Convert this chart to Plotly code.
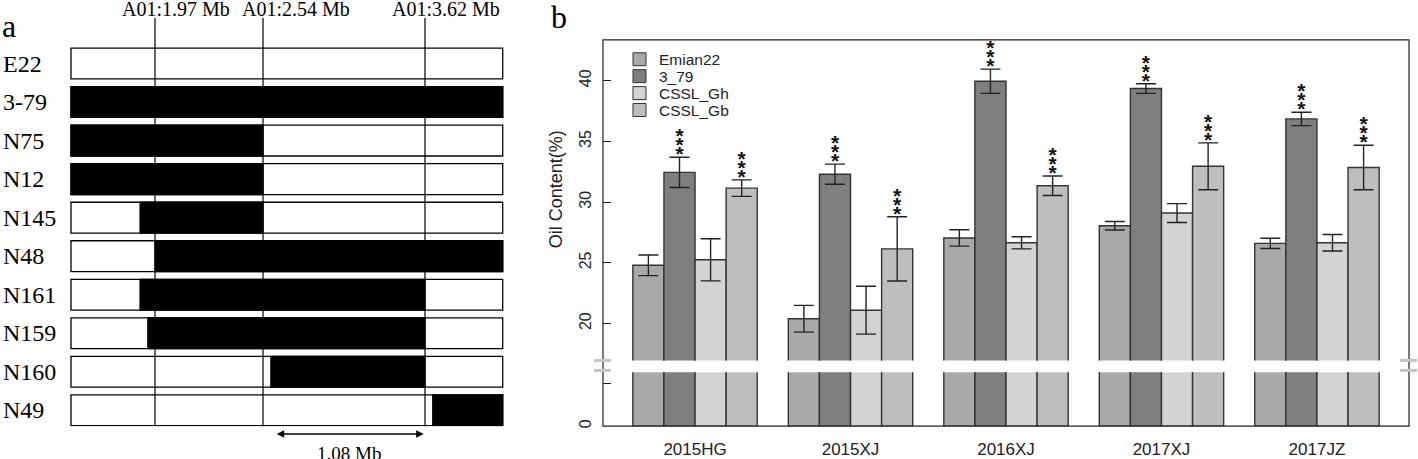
import plotly.graph_objects as go

W, H = 1418, 459

# ---------------- data: panel a ----------------
ROWS = ["E22", "3-79", "N75", "N12", "N145", "N48", "N161", "N159", "N160", "N49"]
# introgressed (black) segments, schematic position 0-100 across the region
SEG_ROWS = ["3-79", "N75", "N12", "N145", "N48", "N161", "N159", "N160", "N49"]
SEG_START = [0, 0, 0, 16.0, 19.46, 16.0, 17.8, 46.3, 83.8]
SEG_END = [100, 44.48, 44.48, 44.48, 100, 82.0, 82.0, 82.0, 100]
MARKER_POS = [19.46, 44.48, 82.0]
MARKER_LABELS = ["A01:1.97 Mb", "A01:2.54 Mb", "A01:3.62 Mb"]
SCALE_FROM, SCALE_TO, SCALE_LABEL = 47.3, 81.7, "1.08 Mb"

# ---------------- data: panel b ----------------
GROUPS = ["2015HG", "2015XJ", "2016XJ", "2017XJ", "2017JZ"]
SERIES = ["Emian22", "3_79", "CSSL_Gh", "CSSL_Gb"]
EMIAN22 = [24.8, 20.4, 27.05, 28.05, 26.6]
EMIAN22_ERR = [0.85, 1.1, 0.67, 0.35, 0.42]
L3_79 = [32.45, 32.3, 39.95, 39.35, 36.85]
L3_79_ERR = [1.25, 0.83, 1.0, 0.4, 0.55]
CSSL_GH = [25.25, 21.1, 26.65, 29.1, 26.65]
CSSL_GH_ERR = [1.73, 1.97, 0.5, 0.78, 0.68]
CSSL_GB = [31.15, 26.15, 31.35, 32.95, 32.85]
CSSL_GB_ERR = [0.68, 2.65, 0.8, 1.93, 1.83]
SIGNIF = ["", "***", "", "***"]
COLORS = ["#A9A9A9", "#7F7F7F", "#D3D3D3", "#BEBEBE"]
UPPER_TICKS = [20, 25, 30, 35, 40]

VALUES = [EMIAN22, L3_79, CSSL_GH, CSSL_GB]
ERRORS = [EMIAN22_ERR, L3_79_ERR, CSSL_GH_ERR, CSSL_GB_ERR]


def px(x):
    return x / W


def py(y):
    return 1 - y / H


SERIF = "Liberation Serif, Times New Roman, serif"
SANS = "Liberation Sans, Arial, Helvetica, sans-serif"

fig = go.Figure()

# ---------------- panel b ----------------
L, R, T, B = 603, 1409, 40, 428
GAP_T, GAP_B = 362, 374
PPU = 12.2  # px per unit, upper
up_lo = 20 - (GAP_T - 325) / PPU
up_hi = 20 + (325 - T) / PPU
BW = 0.2

for k, name in enumerate(SERIES):
    xs = [g + (k - 1.5) * BW for g in range(len(GROUPS))]
    for yax, err in (("y", None), ("y2", ERRORS[k])):
        fig.add_trace(go.Bar(
            x=xs, y=VALUES[k], width=BW, name=name, showlegend=False,
            xaxis="x", yaxis=yax,
            marker=dict(color=COLORS[k], line=dict(color="#333333", width=1.4)),
            error_y=None if err is None else dict(type="data", array=err, visible=True,
                                                   color="#222222", thickness=1.4, width=10),
        ))
    if SIGNIF[k]:
        sx, sy = [], []
        for g in range(len(GROUPS)):
            top = VALUES[k][g] + ERRORS[k][g]
            for i in range(len(SIGNIF[k])):
                sx.append(xs[g])
                sy.append(top + 0.1 + 0.74 * i)
        fig.add_trace(go.Scatter(
            x=sx, y=sy, mode="text", text=["<b>*</b>"] * len(sx), showlegend=False,
            xaxis="x", yaxis="y2", cliponaxis=False,
            textfont=dict(family=SANS, size=21, color="#111111"), hoverinfo="skip",
        ))

shapes = []
annotations = []

# plot box
shapes.append(dict(type="rect", xref="paper", yref="paper", x0=px(L), x1=px(R), y0=py(B), y1=py(T),
                   line=dict(color="#222222", width=1.2), layer="above"))
# break marks
for xa, xb in ((594, 611), (1400, 1417)):
    for yy in (362, 372):
        shapes.append(dict(type="line", xref="paper", yref="paper", x0=px(xa), x1=px(xb), y0=py(yy), y1=py(yy),
                           line=dict(color="#C4C4C4", width=3), layer="above"))

# legend (manual)
for k, name in enumerate(SERIES):
    cy = 59.5 + 17 * k
    shapes.append(dict(type="rect", xref="paper", yref="paper", x0=px(633), x1=px(646),
                       y0=py(cy + 6.5), y1=py(cy - 6.5), fillcolor=COLORS[k],
                       line=dict(color="#333333", width=1)))
    annotations.append(dict(text=name, xref="paper", yref="paper", x=px(657), y=py(cy),
                            xanchor="left", yanchor="middle", showarrow=False,
                            font=dict(family=SANS, size=15.5, color="#222222")))

annotations.append(dict(text="Oil Content(%)", xref="paper", yref="paper", x=px(556), y=py(190),
                        textangle=-90, showarrow=False, xanchor="center", yanchor="middle",
                        font=dict(family=SANS, size=18, color="#222222")))
annotations.append(dict(text="b", xref="paper", yref="paper", x=px(549), y=py(17),
                        xanchor="left", yanchor="middle", showarrow=False,
                        font=dict(family=SERIF, size=32, color="black")))

# ---------------- panel a ----------------
A_L, A_R = 71, 502.7
UPX = (A_R - A_L) / 100.0
dom_l, dom_r = 66, 508
a_range = [(dom_l - A_L) / UPX, (dom_r - A_L) / UPX]
A_T, A_B = 18, 428
ROW0, PITCH = 63.8, 38.7
a_yrange = [(A_B - ROW0) / PITCH, (A_T - ROW0) / PITCH]


def ady(y):
    # pixel y -> fraction of panel-a y domain
    return (A_B - y) / (A_B - A_T)


fig.add_trace(go.Bar(
    y=ROWS, x=[100] * len(ROWS), base=[0] * len(ROWS), orientation="h", width=0.8,
    xaxis="x3", yaxis="y3", showlegend=False,
    marker=dict(color="rgba(0,0,0,0)", line=dict(color="black", width=1.3)),
))
fig.add_trace(go.Bar(
    y=SEG_ROWS, x=[e - s for s, e in zip(SEG_START, SEG_END)], base=SEG_START, orientation="h",
    width=0.8, xaxis="x3", yaxis="y3", showlegend=False,
    marker=dict(color="black", line=dict(color="black", width=1.3)),
))

for m in MARKER_POS:
    shapes.append(dict(type="line", xref="x3", yref="y3 domain", x0=m, x1=m, y0=0, y1=1,
                       line=dict(color="black", width=1.2), layer="below"))

LABEL_X = [24.4, 52.2, 86.9]
for lx, lab in zip(LABEL_X, MARKER_LABELS):
    annotations.append(dict(text=lab, xref="x3", yref="paper", x=lx, y=py(9), showarrow=False,
                            xanchor="center", yanchor="middle",
                            font=dict(family=SERIF, size=20, color="black")))

for r in ROWS:
    annotations.append(dict(text=r, xref="paper", yref="y3", x=px(1), y=r, showarrow=False,
                            xanchor="left", yanchor="middle",
                            font=dict(family=SERIF, size=24, color="black")))

annotations.append(dict(text="a", xref="paper", yref="paper", x=px(0), y=py(26),
                        xanchor="left", yanchor="middle", showarrow=False,
                        font=dict(family=SERIF, size=32, color="black")))

# scale bar
annotations.append(dict(text="", x=SCALE_TO, y=ady(436), xref="x3", yref="y3 domain",
                        ax=SCALE_FROM, ay=ady(436), axref="x3", ayref="y3 domain",
                        showarrow=True, arrowhead=2, arrowside="end+start", arrowsize=1,
                        arrowwidth=1.5, arrowcolor="black"))
annotations.append(dict(text=SCALE_LABEL, xref="x3", yref="paper", x=(SCALE_FROM + SCALE_TO) / 2,
                        y=py(455), showarrow=False, xanchor="center", yanchor="middle",
                        font=dict(family=SERIF, size=19, color="black")))

fig.update_layout(
    width=W, height=H, margin=dict(l=0, r=0, t=0, b=0),
    paper_bgcolor="white", plot_bgcolor="rgba(0,0,0,0)",
    barmode="overlay", showlegend=False,
    xaxis=dict(domain=[px(L), px(R)], range=[-0.592, 4.592], anchor="y",
               tickvals=list(range(len(GROUPS))), ticktext=GROUPS, ticks="",
               ticklabelstandoff=11,
               showgrid=False, zeroline=False, showline=False,
               tickfont=dict(family=SANS, size=17, color="#222222")),
    yaxis=dict(domain=[py(B), py(GAP_B)], range=[0, 5], anchor="x",
               tickvals=[0, 4], ticktext=["0", ""], ticks="inside", ticklen=8, tickcolor="#222222",
               tickangle=-90, ticklabelstandoff=8, showgrid=False, zeroline=False, showline=False,
               tickfont=dict(family=SANS, size=16, color="#222222")),
    yaxis2=dict(domain=[py(GAP_T), py(T)], range=[up_lo, up_hi], anchor="x",
                tickvals=UPPER_TICKS, ticks="inside", ticklen=8, tickcolor="#222222",
                tickangle=-90, ticklabelstandoff=8, showgrid=False, zeroline=False, showline=False,
                tickfont=dict(family=SANS, size=16, color="#222222")),
    xaxis3=dict(domain=[px(dom_l), px(dom_r)], range=a_range, anchor="y3", visible=False),
    yaxis3=dict(domain=[py(A_B), py(A_T)], range=a_yrange, anchor="x3", visible=False,
                type="category", categoryorder="array", categoryarray=ROWS),
    shapes=shapes, annotations=annotations,
)

fig.write_html("out.html", config={"displayModeBar": False},
               post_script="document.body.style.margin='0';document.body.style.overflow='hidden';")
